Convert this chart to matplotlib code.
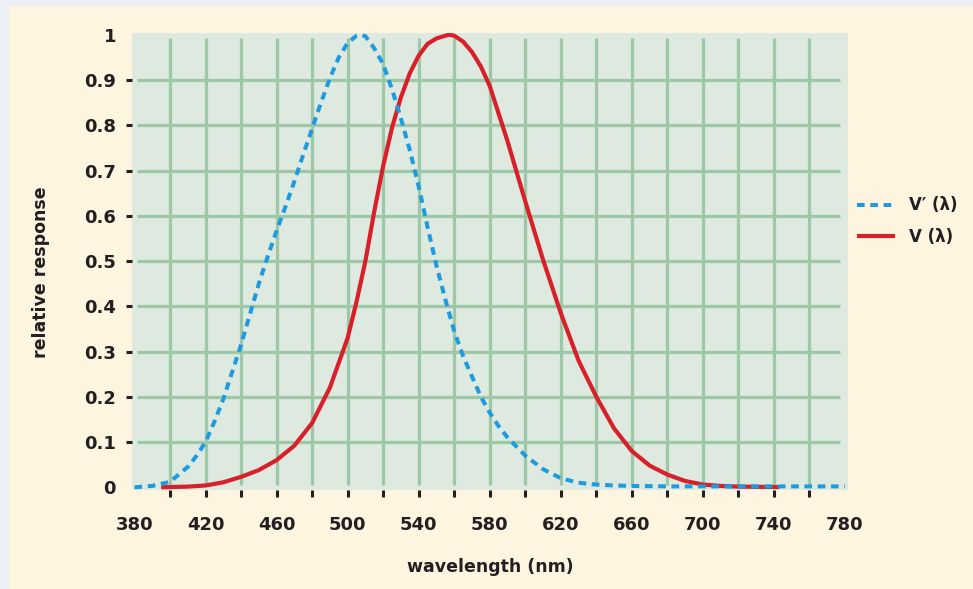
import matplotlib.pyplot as plt
from matplotlib.patches import Rectangle

# V(lambda) - visao fotopica
wl_photopic = [395, 400, 410, 420, 430, 440, 450, 460, 470, 480, 490, 500, 505, 510, 515,
               520, 525, 530, 535, 540, 545, 550, 555, 557, 560, 565, 570, 575, 580, 590,
               600, 610, 620, 630, 640, 650, 660, 670, 680, 690, 700, 710, 720, 730, 743]
v_photopic = [0.0, 0.0005, 0.0015, 0.004, 0.011, 0.023, 0.038, 0.060, 0.092, 0.142, 0.22,
              0.33, 0.41, 0.50, 0.61, 0.71, 0.795, 0.862, 0.915, 0.954, 0.98, 0.992, 0.998,
              1.0, 0.998, 0.985, 0.962, 0.93, 0.887, 0.765, 0.632, 0.503, 0.385, 0.28, 0.20,
              0.13, 0.08, 0.048, 0.028, 0.014, 0.006, 0.003, 0.0015, 0.001, 0.0005]

# V'(lambda) - visao escotopica
wl_scotopic = [380, 390, 400, 410, 415, 420, 425, 430, 435, 440, 450, 455, 460, 465, 470,
               475, 480, 485, 490, 495, 500, 505, 507, 510, 515, 520, 525, 530, 535, 540,
               545, 550, 555, 560, 565, 570, 575, 580, 585, 590, 600, 610, 620, 630, 640,
               650, 660, 680, 700, 740, 780]
v_scotopic = [0.0, 0.003, 0.012, 0.045, 0.07, 0.10, 0.145, 0.195, 0.255, 0.315, 0.45, 0.51,
              0.567, 0.62, 0.676, 0.735, 0.793, 0.85, 0.904, 0.95, 0.982, 0.998, 1.0, 0.997,
              0.97, 0.935, 0.88, 0.815, 0.745, 0.665, 0.575, 0.49, 0.415, 0.345, 0.29,
              0.245, 0.2, 0.165, 0.135, 0.11, 0.07, 0.04, 0.02, 0.01, 0.006, 0.004, 0.003,
              0.002, 0.002, 0.002, 0.002]

x_ticks = list(range(380, 781, 20))
x_labels = [str(v) if (v - 380) % 40 == 0 else '' for v in x_ticks]
y_ticks = [0, 0.1, 0.2, 0.3, 0.4, 0.5, 0.6, 0.7, 0.8, 0.9, 1]
y_labels = ['0', '0.1', '0.2', '0.3', '0.4', '0.5', '0.6', '0.7', '0.8', '0.9', '1']

W, H = 973, 589
txt = '#231f20'
grid_c = '#9dc8a7'
plt.rcParams['font.family'] = ['DejaVu Sans']

fig = plt.figure(figsize=(W / 100, H / 100), dpi=100, facecolor='#eceff4')
fig.patches.append(Rectangle((9 / W, 0), 1, 1 - 6 / H, transform=fig.transFigure,
                             facecolor='#fef5e1', edgecolor='none', zorder=-10))

ax = fig.add_axes([132 / W, 1 - 490 / H, 716 / W, 457 / H])
ax.set_facecolor('#dee9df')
ax.set_xlim(378.6, 781.7)
ax.set_ylim(-0.006, 1.004)
for s in ax.spines.values():
    s.set_visible(False)

# grade desenhada a mao (nao encosta nas bordas)
ax.vlines(x_ticks[1:-1], 0.005, 0.993, color=grid_c, lw=2.3, zorder=1)
ax.hlines(y_ticks[1:-1], 381.5, 777, color=grid_c, lw=2.3, zorder=1)

ax.plot(wl_photopic, v_photopic, color='#d7202a', lw=3.0, zorder=3,
        solid_capstyle='butt', solid_joinstyle='round', label='V (λ)')
ax.plot(wl_scotopic, v_scotopic, color='#1e9be0', lw=2.9, zorder=4,
        dashes=(1.9, 1.4), dash_capstyle='butt', label='V′ (λ)')

ax.set_xticks(x_ticks)
ax.set_xticklabels(x_labels, fontsize=13, fontweight='bold', color=txt)
ax.set_yticks(y_ticks)
ax.set_yticklabels(y_labels, fontsize=13, fontweight='bold', color=txt)
ax.tick_params(axis='x', direction='out', length=5, width=2.2, color=txt, pad=14)
ax.tick_params(axis='y', direction='out', length=4.5, width=2.2, color=txt, pad=7)
for t in [ax.xaxis.get_major_ticks()[0], ax.xaxis.get_major_ticks()[-1],
          ax.yaxis.get_major_ticks()[0], ax.yaxis.get_major_ticks()[-1]]:
    t.tick1line.set_visible(False)

fig.text(41 / W, 1 - 272 / H, 'relative response', rotation=90, ha='center', va='center',
         fontsize=12.5, fontweight='bold', color=txt)
fig.text(490 / W, 1 - 567 / H, 'wavelength (nm)', ha='center', va='center',
         fontsize=12.5, fontweight='bold', color=txt)

h, l = ax.get_legend_handles_labels()
ax.legend(h[::-1], l[::-1], loc='center left', bbox_to_anchor=(857 / W, 1 - 221 / H),
          bbox_transform=fig.transFigure, frameon=False, borderpad=0, borderaxespad=0,
          handlelength=2.3, handletextpad=0.8, labelspacing=0.8,
          prop={'size': 12, 'weight': 'bold'}, labelcolor=txt)

fig.savefig('out.png', dpi=100, facecolor=fig.get_facecolor())
